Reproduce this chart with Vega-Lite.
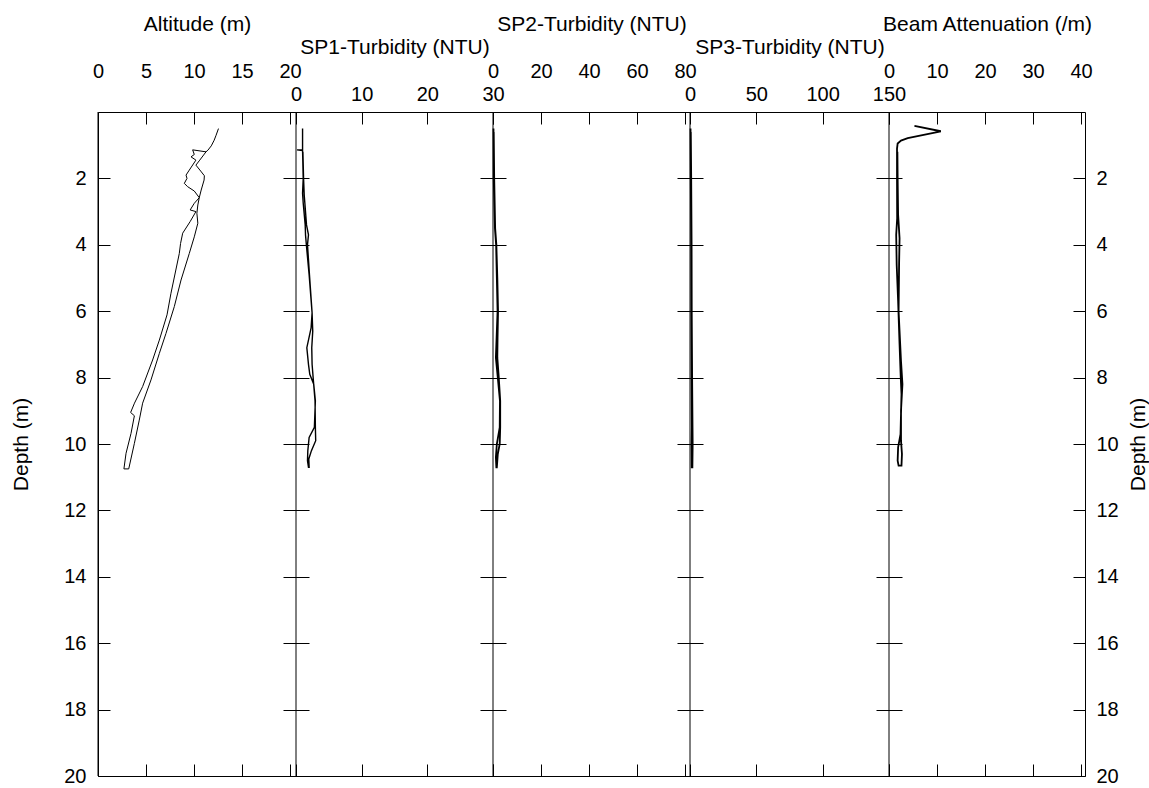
{
  "$schema": "https://vega.github.io/schema/vega-lite/v6.json",
  "width": 987,
  "height": 664,
  "autosize": {"type": "pad"},
  "padding": {"left": 10, "top": 13, "right": 0, "bottom": 0},
  "background": "white",
  "config": {
    "view": {"stroke": "black", "strokeWidth": 1},
    "axis": {
      "grid": false,
      "labelFont": "Liberation Sans",
      "labelFontSize": 20,
      "titleFont": "Liberation Sans",
      "titleFontSize": 21,
      "titleFontWeight": "normal",
      "labelColor": "black",
      "titleColor": "black",
      "tickColor": "black",
      "domainColor": "black",
      "tickWidth": 1,
      "labelFlush": false,
      "labelOverlap": false
    }
  },
  "datasets": {
    "alt": [
      {"i":1,"v":12.55,"depth":0.50},{"i":2,"v":12.3,"depth":0.70},{"i":3,"v":12.1,"depth":0.85},{"i":4,"v":11.8,"depth":1.02},
      {"i":5,"v":11.45,"depth":1.15},{"i":6,"v":11.25,"depth":1.20},{"i":7,"v":10.6,"depth":1.45},{"i":8,"v":10.2,"depth":1.60},
      {"i":9,"v":10.7,"depth":1.78},{"i":10,"v":11.08,"depth":1.92},{"i":11,"v":11.05,"depth":2.05},{"i":12,"v":10.75,"depth":2.35},
      {"i":13,"v":10.55,"depth":2.58},{"i":14,"v":10.4,"depth":2.8},{"i":15,"v":10.3,"depth":3.05},{"i":16,"v":10.4,"depth":3.35},
      {"i":17,"v":10.03,"depth":3.76},{"i":18,"v":9.51,"depth":4.26},{"i":19,"v":8.65,"depth":5.06},{"i":20,"v":7.95,"depth":5.86},
      {"i":21,"v":7.08,"depth":6.67},{"i":22,"v":6.39,"depth":7.27},{"i":23,"v":5.52,"depth":8.07},{"i":24,"v":4.65,"depth":8.77},
      {"i":25,"v":4.3,"depth":9.28},{"i":26,"v":3.79,"depth":9.98},{"i":27,"v":3.2,"depth":10.75},{"i":28,"v":2.7,"depth":10.75},
      {"i":29,"v":2.92,"depth":10.28},{"i":30,"v":3.44,"depth":9.68},{"i":31,"v":3.79,"depth":9.15},{"i":32,"v":3.4,"depth":9.05},
      {"i":33,"v":3.8,"depth":8.77},{"i":34,"v":4.65,"depth":8.27},{"i":35,"v":5.69,"depth":7.47},{"i":36,"v":6.39,"depth":6.87},
      {"i":37,"v":7.19,"depth":6.11},{"i":38,"v":7.6,"depth":5.46},{"i":39,"v":8.47,"depth":4.26},{"i":40,"v":8.6,"depth":3.96},
      {"i":41,"v":8.82,"depth":3.65},{"i":42,"v":9.6,"depth":3.3},{"i":43,"v":10.2,"depth":3.0},{"i":44,"v":9.6,"depth":2.95},
      {"i":45,"v":10.03,"depth":2.75},{"i":46,"v":10.55,"depth":2.58},{"i":47,"v":10.03,"depth":2.38},{"i":48,"v":9.34,"depth":2.25},
      {"i":49,"v":8.99,"depth":2.15},{"i":50,"v":9.27,"depth":2.0},{"i":51,"v":9.17,"depth":1.9},{"i":52,"v":9.51,"depth":1.75},
      {"i":53,"v":10.2,"depth":1.45},{"i":54,"v":9.69,"depth":1.35},{"i":55,"v":10.03,"depth":1.28},{"i":56,"v":9.86,"depth":1.14},
      {"i":57,"v":11.25,"depth":1.20}
    ],
    "sp1": [
      {"i":1,"v":1.0,"depth":0.5},{"i":2,"v":1.0,"depth":1.14},{"i":3,"v":0.15,"depth":1.14},{"i":4,"v":1.0,"depth":1.16},
      {"i":5,"v":1.1,"depth":2.0},{"i":6,"v":1.0,"depth":2.45},{"i":7,"v":1.1,"depth":2.75},{"i":8,"v":1.4,"depth":3.4},
      {"i":9,"v":1.45,"depth":3.7},{"i":10,"v":1.6,"depth":4.05},{"i":11,"v":2.0,"depth":4.9},{"i":12,"v":2.35,"depth":5.8},
      {"i":13,"v":2.45,"depth":6.05},{"i":14,"v":2.3,"depth":6.5},{"i":15,"v":1.65,"depth":7.1},{"i":16,"v":1.9,"depth":7.6},
      {"i":17,"v":2.1,"depth":7.9},{"i":18,"v":2.7,"depth":8.2},{"i":19,"v":2.95,"depth":8.7},{"i":20,"v":2.8,"depth":9.5},
      {"i":21,"v":2.0,"depth":9.8},{"i":22,"v":1.8,"depth":10.2},{"i":23,"v":1.75,"depth":10.5},{"i":24,"v":1.9,"depth":10.7},
      {"i":25,"v":2.0,"depth":10.7},{"i":26,"v":1.95,"depth":10.45},{"i":27,"v":2.35,"depth":10.2},{"i":28,"v":3.0,"depth":9.9},
      {"i":29,"v":2.95,"depth":9.5},{"i":30,"v":2.9,"depth":8.7},{"i":31,"v":2.65,"depth":8.1},{"i":32,"v":2.45,"depth":7.6},
      {"i":33,"v":2.4,"depth":7.1},{"i":34,"v":2.55,"depth":6.6},{"i":35,"v":2.45,"depth":6.05},{"i":36,"v":2.05,"depth":4.9},
      {"i":37,"v":1.75,"depth":4.0},{"i":38,"v":1.9,"depth":3.7},{"i":39,"v":1.6,"depth":3.4},{"i":40,"v":1.35,"depth":2.75},
      {"i":41,"v":1.25,"depth":2.5},{"i":42,"v":1.15,"depth":2.0},{"i":43,"v":1.05,"depth":1.2}
    ],
    "sp2": [
      {"i":1,"v":0.2,"depth":0.5},{"i":2,"v":0.3,"depth":2.0},{"i":3,"v":0.8,"depth":3.5},{"i":4,"v":1.3,"depth":4.0},
      {"i":5,"v":1.6,"depth":5.0},{"i":6,"v":1.9,"depth":6.0},{"i":7,"v":1.5,"depth":6.8},{"i":8,"v":1.2,"depth":7.4},
      {"i":9,"v":2.0,"depth":8.0},{"i":10,"v":2.9,"depth":8.7},{"i":11,"v":2.8,"depth":9.5},{"i":12,"v":1.6,"depth":10.0},
      {"i":13,"v":1.2,"depth":10.4},{"i":14,"v":1.4,"depth":10.7},{"i":15,"v":1.6,"depth":10.7},{"i":16,"v":2.0,"depth":10.3},
      {"i":17,"v":2.8,"depth":10.0},{"i":18,"v":3.0,"depth":9.5},{"i":19,"v":3.0,"depth":8.7},{"i":20,"v":2.4,"depth":8.0},
      {"i":21,"v":1.8,"depth":7.4},{"i":22,"v":1.9,"depth":6.8},{"i":23,"v":2.1,"depth":6.0},{"i":24,"v":1.8,"depth":5.0},
      {"i":25,"v":1.4,"depth":4.0},{"i":26,"v":0.9,"depth":3.5},{"i":27,"v":0.5,"depth":2.0},{"i":28,"v":0.3,"depth":0.6}
    ],
    "sp3": [
      {"i":1,"v":0.4,"depth":0.5},{"i":2,"v":0.6,"depth":2.0},{"i":3,"v":0.9,"depth":4.0},{"i":4,"v":1.0,"depth":6.0},
      {"i":5,"v":1.2,"depth":8.0},{"i":6,"v":1.4,"depth":9.5},{"i":7,"v":1.2,"depth":10.0},{"i":8,"v":1.3,"depth":10.7},
      {"i":9,"v":1.8,"depth":10.7},{"i":10,"v":2.0,"depth":10.0},{"i":11,"v":1.9,"depth":9.5},{"i":12,"v":1.6,"depth":8.0},
      {"i":13,"v":1.3,"depth":6.0},{"i":14,"v":1.2,"depth":4.0},{"i":15,"v":0.9,"depth":2.0},{"i":16,"v":0.6,"depth":0.6}
    ],
    "beam": [
      {"i":1,"v":5.3,"depth":0.42},{"i":2,"v":10.8,"depth":0.58},{"i":3,"v":3.9,"depth":0.79},{"i":4,"v":2.5,"depth":0.86},
      {"i":5,"v":1.8,"depth":0.95},{"i":6,"v":1.67,"depth":1.1},{"i":7,"v":1.67,"depth":2.0},{"i":8,"v":1.7,"depth":3.2},
      {"i":9,"v":1.5,"depth":3.7},{"i":10,"v":1.6,"depth":4.6},{"i":11,"v":1.9,"depth":5.7},{"i":12,"v":2.2,"depth":7.0},
      {"i":13,"v":2.45,"depth":8.0},{"i":14,"v":2.6,"depth":8.5},{"i":15,"v":2.4,"depth":9.7},{"i":16,"v":1.9,"depth":10.1},
      {"i":17,"v":1.8,"depth":10.5},{"i":18,"v":2.0,"depth":10.65},{"i":19,"v":2.6,"depth":10.65},{"i":20,"v":2.7,"depth":10.3},
      {"i":21,"v":2.5,"depth":9.9},{"i":22,"v":2.5,"depth":9.0},{"i":23,"v":2.8,"depth":8.2},{"i":24,"v":2.5,"depth":7.5},
      {"i":25,"v":2.0,"depth":6.0},{"i":26,"v":2.1,"depth":4.6},{"i":27,"v":2.2,"depth":3.8},{"i":28,"v":1.9,"depth":3.1},
      {"i":29,"v":1.8,"depth":2.0},{"i":30,"v":1.75,"depth":1.2}
    ],
    "one": [{}]
  },
  "resolve": {"scale": {"x": "independent"}, "axis": {"x": "independent", "y": "independent"}},
  "layer": [
    {
      "resolve": {"axis": {"x": "independent", "y": "independent"}},
      "layer": [
        {
          "data": {"name": "alt"},
          "mark": {"type": "line", "stroke": "black", "strokeWidth": 1},
          "encoding": {
            "x": {"field": "v", "type": "quantitative", "scale": {"domain": [0, 20.625], "range": [0, 198], "nice": false, "zero": false},
                  "axis": {"orient": "top", "values": [0, 5, 10, 15, 20], "tickSize": -12, "labelPadding": 43, "titlePadding": 27, "domain": false, "title": "Altitude (m)"}},
            "y": {"field": "depth", "type": "quantitative", "scale": {"domain": [0, 20], "reverse": true, "nice": false, "zero": false},
                  "axis": {"orient": "left", "values": [2, 4, 6, 8, 10, 12, 14, 16, 18, 20], "tickSize": -12, "labelPadding": 24, "domain": false, "title": "Depth (m)", "titlePadding": 32}},
            "order": {"field": "i"}
          }
        },
        {
          "data": {"name": "one"},
          "mark": {"type": "rule", "stroke": "black", "strokeWidth": 1},
          "encoding": {
            "x": {"datum": 0, "type": "quantitative", "scale": {"domain": [0, 20.625], "range": [0, 198], "nice": false, "zero": false},
                  "axis": {"orient": "bottom", "values": [0, 5, 10, 15, 20], "tickSize": -12, "labels": false, "domain": false, "title": null}},
            "y": {"datum": 0, "type": "quantitative", "scale": {"domain": [0, 20], "reverse": true, "nice": false, "zero": false}, "axis": null},
            "y2": {"datum": 20}
          }
        }
      ]
    },
    {
      "resolve": {"axis": {"x": "independent", "y": "independent"}},
      "layer": [
        {
          "data": {"name": "sp1"},
          "mark": {"type": "line", "stroke": "black", "strokeWidth": 1.4},
          "encoding": {
            "x": {"field": "v", "type": "quantitative", "scale": {"domain": [0, 30], "range": [198, 395], "nice": false, "zero": false},
                  "axis": {"orient": "top", "values": [0, 10, 20, 30], "tickSize": -12, "labelPadding": 20, "titlePadding": 27, "domain": false, "title": "SP1-Turbidity (NTU)"}},
            "y": {"field": "depth", "type": "quantitative", "scale": {"domain": [0, 20], "reverse": true, "nice": false, "zero": false},
                  "axis": {"orient": "left", "values": [2, 4, 6, 8, 10, 12, 14, 16, 18, 20], "tickSize": 26, "offset": -211, "labels": false, "domain": false, "title": null}},
            "order": {"field": "i"}
          }
        },
        {
          "data": {"name": "one"},
          "mark": {"type": "rule", "stroke": "black", "strokeWidth": 1},
          "encoding": {
            "x": {"datum": 0, "type": "quantitative", "scale": {"domain": [0, 30], "range": [198, 395], "nice": false, "zero": false},
                  "axis": {"orient": "bottom", "values": [0, 10, 20, 30], "tickSize": -12, "labels": false, "domain": false, "title": null}},
            "y": {"datum": 0, "type": "quantitative", "scale": {"domain": [0, 20], "reverse": true, "nice": false, "zero": false}, "axis": null},
            "y2": {"datum": 20}
          }
        }
      ]
    },
    {
      "resolve": {"axis": {"x": "independent", "y": "independent"}},
      "layer": [
        {
          "data": {"name": "sp2"},
          "mark": {"type": "line", "stroke": "black", "strokeWidth": 1.8},
          "encoding": {
            "x": {"field": "v", "type": "quantitative", "scale": {"domain": [0, 82.08], "range": [395, 592], "nice": false, "zero": false},
                  "axis": {"orient": "top", "values": [0, 20, 40, 60, 80], "tickSize": -12, "labelPadding": 43, "titlePadding": 27, "domain": false, "title": "SP2-Turbidity (NTU)"}},
            "y": {"field": "depth", "type": "quantitative", "scale": {"domain": [0, 20], "reverse": true, "nice": false, "zero": false},
                  "axis": {"orient": "left", "values": [2, 4, 6, 8, 10, 12, 14, 16, 18, 20], "tickSize": 26, "offset": -408, "labels": false, "domain": false, "title": null}},
            "order": {"field": "i"}
          }
        },
        {
          "data": {"name": "one"},
          "mark": {"type": "rule", "stroke": "black", "strokeWidth": 1},
          "encoding": {
            "x": {"datum": 0, "type": "quantitative", "scale": {"domain": [0, 82.08], "range": [395, 592], "nice": false, "zero": false},
                  "axis": {"orient": "bottom", "values": [0, 20, 40, 60, 80], "tickSize": -12, "labels": false, "domain": false, "title": null}},
            "y": {"datum": 0, "type": "quantitative", "scale": {"domain": [0, 20], "reverse": true, "nice": false, "zero": false}, "axis": null},
            "y2": {"datum": 20}
          }
        }
      ]
    },
    {
      "resolve": {"axis": {"x": "independent", "y": "independent"}},
      "layer": [
        {
          "data": {"name": "sp3"},
          "mark": {"type": "line", "stroke": "black", "strokeWidth": 1.8},
          "encoding": {
            "x": {"field": "v", "type": "quantitative", "scale": {"domain": [0, 150], "range": [592, 791], "nice": false, "zero": false},
                  "axis": {"orient": "top", "values": [0, 50, 100, 150], "tickSize": -12, "labelPadding": 20, "titlePadding": 27, "domain": false, "title": "SP3-Turbidity (NTU)"}},
            "y": {"field": "depth", "type": "quantitative", "scale": {"domain": [0, 20], "reverse": true, "nice": false, "zero": false},
                  "axis": {"orient": "left", "values": [2, 4, 6, 8, 10, 12, 14, 16, 18, 20], "tickSize": 26, "offset": -605, "labels": false, "domain": false, "title": null}},
            "order": {"field": "i"}
          }
        },
        {
          "data": {"name": "one"},
          "mark": {"type": "rule", "stroke": "black", "strokeWidth": 1},
          "encoding": {
            "x": {"datum": 0, "type": "quantitative", "scale": {"domain": [0, 150], "range": [592, 791], "nice": false, "zero": false},
                  "axis": {"orient": "bottom", "values": [0, 50, 100, 150], "tickSize": -12, "labels": false, "domain": false, "title": null}},
            "y": {"datum": 0, "type": "quantitative", "scale": {"domain": [0, 20], "reverse": true, "nice": false, "zero": false}, "axis": null},
            "y2": {"datum": 20}
          }
        }
      ]
    },
    {
      "resolve": {"axis": {"x": "independent", "y": "independent"}},
      "layer": [
        {
          "data": {"name": "beam"},
          "mark": {"type": "line", "stroke": "black", "strokeWidth": 1.8},
          "encoding": {
            "x": {"field": "v", "type": "quantitative", "scale": {"domain": [0, 40.83], "range": [791, 987], "nice": false, "zero": false},
                  "axis": {"orient": "top", "values": [0, 10, 20, 30, 40], "tickSize": -12, "labelPadding": 43, "titlePadding": 27, "domain": false, "title": "Beam Attenuation (/m)"}},
            "y": {"field": "depth", "type": "quantitative", "scale": {"domain": [0, 20], "reverse": true, "nice": false, "zero": false},
                  "axis": {"orient": "left", "values": [2, 4, 6, 8, 10, 12, 14, 16, 18, 20], "tickSize": 26, "offset": -804, "labels": false, "domain": false, "title": null}},
            "order": {"field": "i"}
          }
        },
        {
          "data": {"name": "one"},
          "mark": {"type": "rule", "stroke": "black", "strokeWidth": 1},
          "encoding": {
            "x": {"datum": 0, "type": "quantitative", "scale": {"domain": [0, 40.83], "range": [791, 987], "nice": false, "zero": false},
                  "axis": {"orient": "bottom", "values": [0, 10, 20, 30, 40], "tickSize": -12, "labels": false, "domain": false, "title": null}},
            "y": {"datum": 0, "type": "quantitative", "scale": {"domain": [0, 20], "reverse": true, "nice": false, "zero": false},
                  "axis": {"orient": "right", "values": [2, 4, 6, 8, 10, 12, 14, 16, 18, 20], "tickSize": -12, "labelPadding": 23, "domain": false, "title": "Depth (m)", "titlePadding": 9, "titleAngle": -90, "titleBaseline": "top"}},
            "y2": {"datum": 20}
          }
        }
      ]
    }
  ]
}
